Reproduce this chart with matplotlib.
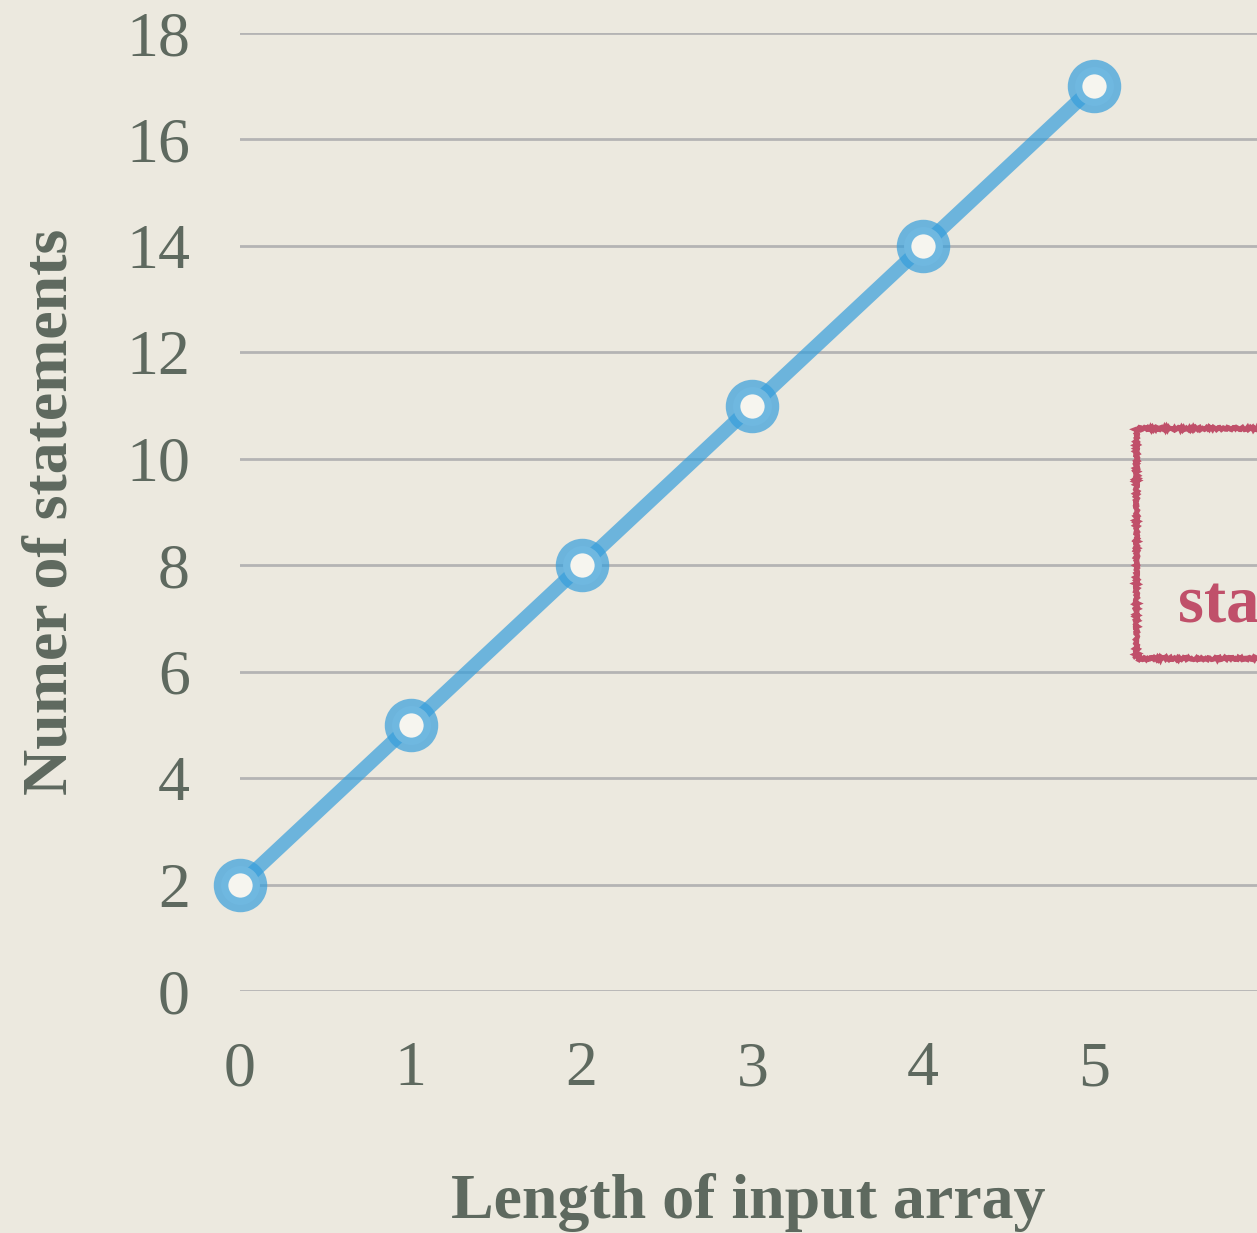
import matplotlib
matplotlib.use("Agg")
import matplotlib.pyplot as plt
from matplotlib.patches import Rectangle

# Data
lengths = [0, 1, 2, 3, 4, 5]
statements = [2, 5, 8, 11, 14, 17]
x_ticks = [0, 1, 2, 3, 4, 5]
y_ticks = [0, 2, 4, 6, 8, 10, 12, 14, 16, 18]
x_label = "Length of input array"
y_label = "Numer of statements"
box_text = "statements"

BG = "#ECE9DF"
TXT = "#5E695F"
BLUE_RGBA = (0.21, 0.62, 0.86, 0.70)
RED = "#C0506A"

plt.rcParams['font.family'] = ['Liberation Serif', 'DejaVu Serif']

W, H = 1257, 1233
fig = plt.figure(figsize=(W / 100, H / 100), dpi=100, facecolor=BG)
ax_l, ax_r = 240 / W, 1257 / W
ax_b, ax_t = (H - 991) / H, (H - 33) / H
ax = fig.add_axes([ax_l, ax_b, ax_r - ax_l, ax_t - ax_b], facecolor=BG)

px_per_x = (1094 - 240) / 5
ax.set_xlim(0, (1257 - 240) / px_per_x)
ax.set_ylim(0, 18)

ax.set_yticks(y_ticks)
ax.set_xticks(x_ticks)
ax.yaxis.grid(True, color="#B4B4B4", linewidth=2.0)
ax.set_axisbelow(True)
for s in ax.spines.values():
    s.set_visible(False)
ax.tick_params(axis='both', length=0, labelsize=46, labelcolor=TXT)
ax.tick_params(axis='y', pad=36)
ax.tick_params(axis='x', pad=36)

ax.plot(lengths, statements, color=BLUE_RGBA, linewidth=10,
        marker='o', markersize=28, markeredgewidth=10.5,
        markerfacecolor="#F6F5EF", markeredgecolor=BLUE_RGBA, clip_on=False, zorder=3)

ax.set_xlabel(x_label, fontsize=46, fontweight='bold', color=TXT, labelpad=53)
ax.set_ylabel(y_label, fontsize=46, fontweight='bold', color=TXT, labelpad=33)

# annotation box (cut at figure edge, as in the original)
rect = Rectangle((5.246, 6.26), 2.0, 4.32, fill=False, edgecolor=RED,
                 linewidth=3.5, clip_on=False, zorder=4)
rect.set_sketch_params(scale=1.2, length=4, randomness=3)
ax.add_patch(rect)
ax.text(5.49, 6.93, box_text, color=RED, fontsize=48, fontweight='bold',
        ha='left', va='baseline', clip_on=False)

fig.savefig("out.png", dpi=100, facecolor=BG)
